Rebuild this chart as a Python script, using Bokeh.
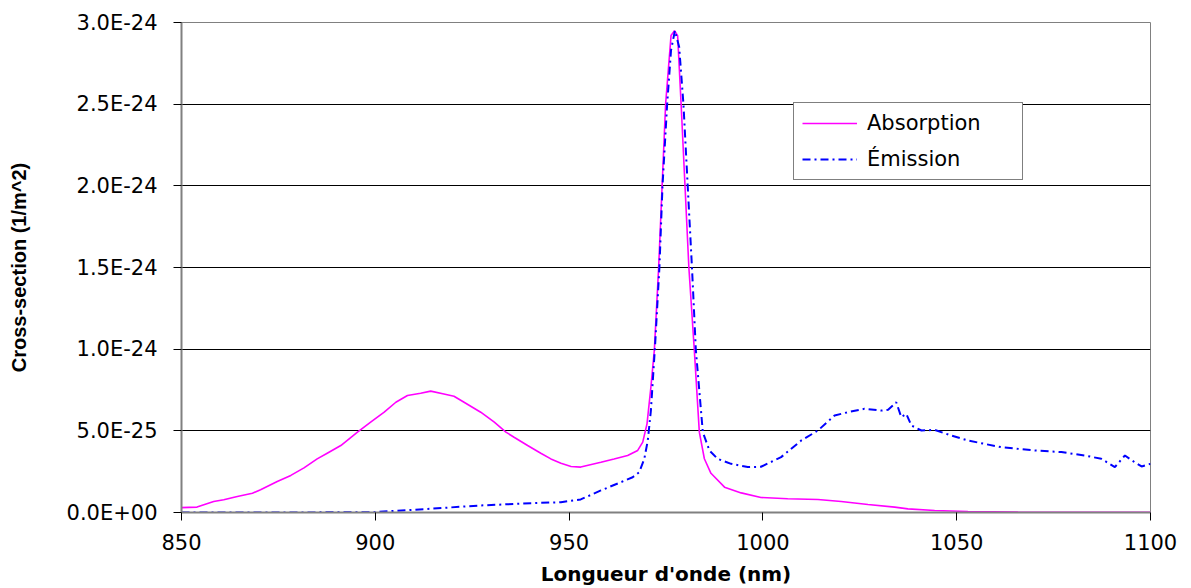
from bokeh.plotting import figure
from bokeh.models import (ColumnDataSource, Range1d, FixedTicker, CustomJSTickFormatter,
                          Legend, LegendItem)
from bokeh.embed import file_html
from bokeh.resources import INLINE

# ---------------- data (cross-sections in units of 1E-25 m^2) ----------------
abs_wl = [849.7, 854.0, 858.3, 860.9, 864.4, 868.3, 870.4, 874.7, 878.2, 881.6,
          885.0, 887.6, 891.1, 895.4, 898.8, 902.3, 905.3, 908.3, 911.7, 914.3,
          917.7, 920.3, 922.9, 927.2, 930.7, 933.7, 935.8, 939.3, 942.7, 945.3,
          947.9, 950.5, 953.0, 958.2, 961.6, 965.1, 967.7, 969.0, 970.1, 971.1,
          972.0, 973.1, 974.0, 974.9, 976.3, 977.2, 978.0, 978.9, 979.9, 980.9,
          982.3, 983.6, 984.9, 986.6, 990.1, 994.4, 999.5, 1006.4, 1014.2, 1020.2,
          1027.1, 1034.0, 1037.4, 1044.3, 1052.9, 1065.8, 1080.0, 1100.0]
abs_val = [0.30, 0.33, 0.67, 0.78, 0.98, 1.18, 1.39, 1.90, 2.27, 2.73,
           3.28, 3.63, 4.10, 4.92, 5.53, 6.14, 6.75, 7.16, 7.30, 7.43,
           7.26, 7.12, 6.75, 6.14, 5.53, 4.92, 4.61, 4.10, 3.63, 3.28,
           3.02, 2.82, 2.78, 3.08, 3.28, 3.49, 3.80, 4.31, 5.43, 7.67,
           9.96, 15.0, 20.0, 25.0, 29.2, 29.5, 29.2, 25.0, 20.0, 15.0,
           9.96, 4.92, 3.29, 2.40, 1.55, 1.20, 0.92, 0.84, 0.80, 0.67,
           0.49, 0.33, 0.22, 0.12, 0.06, 0.02, 0.01, 0.01]

emi_wl = [850.0, 870.0, 890.0, 899.7, 913.5, 927.2, 940.1, 947.9, 953.0, 958.2,
          963.4, 966.4, 968.1, 969.4, 970.3, 971.1, 972.2, 973.3, 974.1, 975.3,
          976.3, 977.3, 978.4, 979.5, 980.6, 981.7, 982.7, 984.5, 986.2, 988.3,
          991.8, 996.1, 999.5, 1004.7, 1009.9, 1014.2, 1018.5, 1021.9, 1026.2, 1030.5,
          1032.3, 1034.4, 1035.7, 1037.0, 1038.3, 1040.9, 1044.3, 1048.6, 1052.9, 1057.2,
          1061.5, 1070.1, 1077.0, 1083.0, 1087.3, 1090.8, 1093.4, 1095.9, 1097.7, 1100.0]
emi_val = [0.00, 0.00, 0.01, 0.02, 0.22, 0.43, 0.57, 0.63, 0.80, 1.35,
           1.86, 2.16, 2.47, 3.28, 4.41, 6.24, 10.3, 15.0, 20.0, 25.0,
           28.3, 29.5, 28.5, 25.0, 20.0, 15.0, 9.96, 4.92, 3.80, 3.29,
           2.98, 2.78, 2.80, 3.39, 4.41, 5.02, 5.94, 6.14, 6.35, 6.24,
           6.29, 6.75, 5.84, 6.04, 5.33, 5.02, 5.06, 4.71, 4.41, 4.20,
           4.00, 3.80, 3.70, 3.49, 3.29, 2.78, 3.49, 3.08, 2.82, 2.98]

x_ticks = [850, 900, 950, 1000, 1050, 1100]
y_ticks = [0, 5, 10, 15, 20, 25, 30]
series_names = ["Absorption", "\u00c9mission"]
x_title = "Longueur d'onde (nm)"
y_title = "Cross-section (1/m^2)"

FONT = "DejaVu Sans"
FONT_Y = "Liberation Sans"

p = figure(width=1191, height=588, output_backend="svg", toolbar_location=None,
           x_range=Range1d(850, 1100), y_range=Range1d(0, 30),
           min_border_left=181, min_border_right=41, min_border_top=22, min_border_bottom=76)
p.background_fill_color = "white"
p.border_fill_color = "white"
p.outline_line_color = "#808080"
p.outline_line_width = 1

src_a = ColumnDataSource(dict(x=abs_wl, y=abs_val))
src_e = ColumnDataSource(dict(x=emi_wl, y=emi_val))

r_a = p.line("x", "y", source=src_a, line_color="#FF00FF", line_width=1.6)
r_e = p.line("x", "y", source=src_e, line_color="#0000FF", line_width=2,
             line_dash="8 4 2 4")

# grid
p.xgrid.visible = False
p.ygrid.ticker = FixedTicker(ticks=[5, 10, 15, 20, 25])
p.ygrid.grid_line_color = "black"
p.ygrid.grid_line_width = 1

# x axis
xa = p.xaxis[0]
xa.ticker = FixedTicker(ticks=x_ticks)
xa.major_tick_out = 8
xa.major_tick_in = 0
xa.minor_tick_out = 0
xa.minor_tick_in = 0
xa.major_label_standoff = 13
xa.major_label_text_font = FONT
xa.major_label_text_font_size = "21px"
xa.major_label_text_color = "black"
xa.axis_line_color = "#808080"
xa.axis_line_width = 2
xa.major_tick_line_color = "black"
xa.axis_label = x_title
xa.axis_label_text_font = FONT
xa.axis_label_text_font_size = "20px"
xa.axis_label_text_font_style = "bold"
xa.axis_label_text_color = "black"
xa.axis_label_standoff = 9

# y axis
ya = p.yaxis[0]
ya.ticker = FixedTicker(ticks=y_ticks)
ya.formatter = CustomJSTickFormatter(code="""
const v = tick * 1e-25;
if (Math.abs(v) < 1e-40) { return "0.0E+00"; }
const s = v.toExponential(1);
const parts = s.split("e");
const n = parseInt(parts[1]);
const a = Math.abs(n);
return parts[0] + "E" + (n < 0 ? "-" : "+") + (a < 10 ? "0" + a : String(a));
""")
ya.major_tick_out = 8
ya.major_tick_in = 0
ya.minor_tick_out = 0
ya.minor_tick_in = 0
ya.major_label_standoff = 16
ya.major_label_text_font = FONT
ya.major_label_text_font_size = "21px"
ya.major_label_text_color = "black"
ya.axis_line_color = "#808080"
ya.axis_line_width = 2
ya.major_tick_line_color = "black"
ya.axis_label = y_title
ya.axis_label_text_font = FONT_Y
ya.axis_label_text_font_size = "20px"
ya.axis_label_text_font_style = "bold"
ya.axis_label_text_color = "black"
ya.axis_label_standoff = 34

legend = Legend(items=[LegendItem(label=series_names[0], renderers=[r_a]),
                       LegendItem(label=series_names[1], renderers=[r_e])],
                location=(612, 332), orientation="vertical")
legend.margin = 0
legend.padding = 8
legend.spacing = 12
legend.glyph_width = 55
legend.glyph_height = 22
legend.label_height = 22
legend.label_width = 147
legend.label_standoff = 10
legend.label_text_font = FONT
legend.label_text_font_size = "21px"
legend.label_text_color = "black"
legend.border_line_color = "black"
legend.border_line_width = 1
legend.background_fill_color = "white"
legend.background_fill_alpha = 1.0
p.add_layout(legend, "center")

open("out.html", "w").write(file_html(p, INLINE))
